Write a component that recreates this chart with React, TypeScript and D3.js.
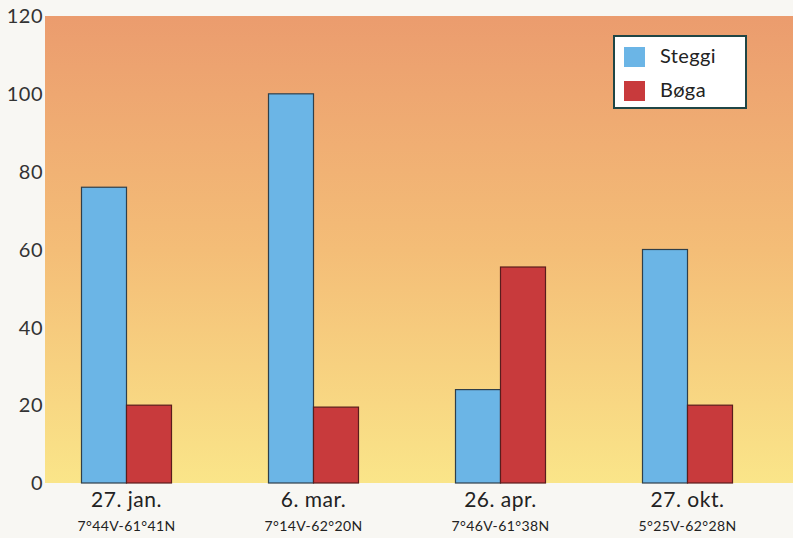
import React from "react";
import * as d3 from "d3";

const categories = ["27. jan.", "6. mar.", "26. apr.", "27. okt."];
const positions = ["7°44V-61°41N", "7°14V-62°20N", "7°46V-61°38N", "5°25V-62°28N"];
const steggi = [76, 100, 24, 60];
const boga = [20, 19.5, 55.5, 20];
const seriesNames = ["Steggi", "Bøga"];
const seriesColors = ["#6bb5e6", "#c83a3c"];
const yTicks = [0, 20, 40, 60, 80, 100, 120];

const W = 793;
const H = 538;
const plot = { left: 45, top: 16, right: 793, bottom: 483 };

export default function App() {
  const y = d3.scaleLinear().domain([0, 120]).range([plot.bottom, plot.top]);
  const x = d3.scaleBand().domain(categories).range([33, 781]);
  const bw = 45;
  const font = "Lato, 'Open Sans', sans-serif";
  return (
    <svg width={W} height={H} style={{ position: "absolute", left: 0, top: 0, background: "#f8f7f3" }}>
      <defs>
        <linearGradient id="bg" x1="0" y1="0" x2="0" y2="1">
          <stop offset="0" stopColor="#eb9c6e" />
          <stop offset="0.5" stopColor="#f4bd77" />
          <stop offset="1" stopColor="#fae589" />
        </linearGradient>
      </defs>
      <rect x={plot.left} y={plot.top} width={plot.right - plot.left} height={plot.bottom - plot.top} fill="url(#bg)" />
      {yTicks.map((t) => (
        <text key={t} x={43} y={y(t)} dy="0.36em" textAnchor="end" fontFamily={font} fontSize={20} fill="#333" letterSpacing={0.5}>
          {t}
        </text>
      ))}
      {categories.map((c, i) => {
        const cx = (x(c) as number) + x.bandwidth() / 2;
        return (
          <g key={c}>
            <rect x={cx - bw} y={y(steggi[i])} width={bw} height={y(0) - y(steggi[i])} fill={seriesColors[0]} stroke="#2f3f4a" strokeWidth={1.2} />
            <rect x={cx} y={y(boga[i])} width={bw} height={y(0) - y(boga[i])} fill={seriesColors[1]} stroke="#5a1c1c" strokeWidth={1.2} />
            <text x={cx} y={507} textAnchor="middle" fontFamily={font} fontSize={21} fill="#222" letterSpacing={0.5}>{c}</text>
            <text x={cx} y={531} textAnchor="middle" fontFamily={font} fontSize={14} fill="#222" letterSpacing={0.4}>{positions[i]}</text>
          </g>
        );
      })}
      <g>
        <rect x={614} y={36} width={132} height={72} fill="#ffffff" stroke="#1f4646" strokeWidth={2} />
        {seriesNames.map((s, i) => (
          <g key={s}>
            <rect x={624} y={47 + i * 34} width={21} height={20} fill={seriesColors[i]} />
            <text x={660} y={56 + i * 34} dy="0.36em" fontFamily={font} fontSize={20} fill="#222" letterSpacing={0.4}>{s}</text>
          </g>
        ))}
      </g>
    </svg>
  );
}
